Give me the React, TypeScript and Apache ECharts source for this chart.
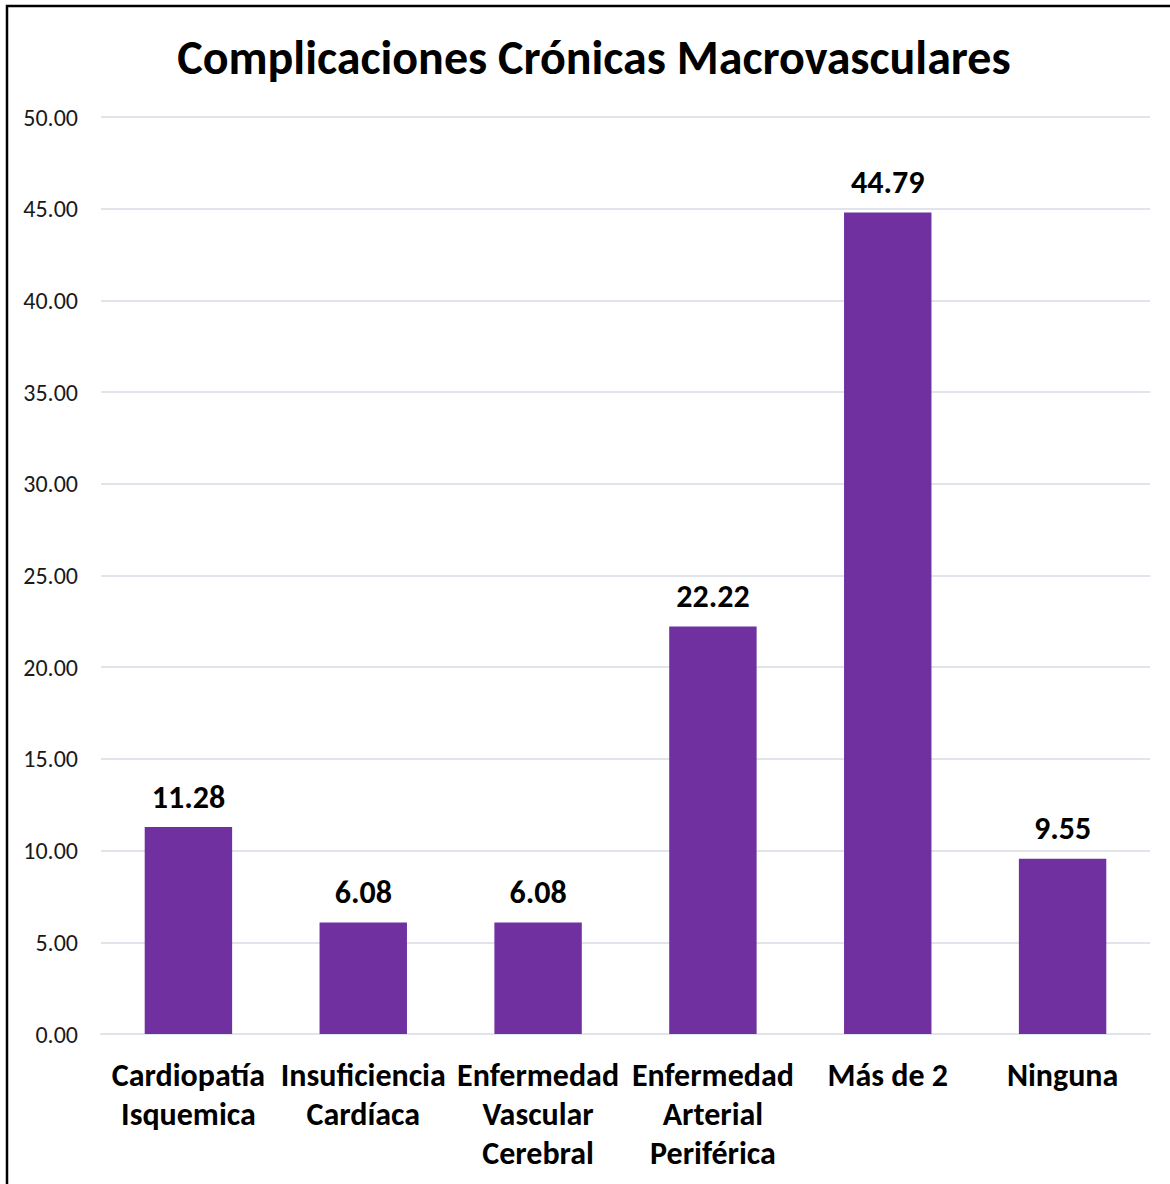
import React, { useEffect, useRef } from "react";
import * as echarts from "echarts";

const categories = [
  "Cardiopatía\nIsquemica",
  "Insuficiencia\nCardíaca",
  "Enfermedad\nVascular\nCerebral",
  "Enfermedad\nArterial\nPeriférica",
  "Más de 2",
  "Ninguna",
];
const values = [11.28, 6.08, 6.08, 22.22, 44.79, 9.55];
const title = "Complicaciones Crónicas Macrovasculares";

const FONT = "Carlito, Calibri, Lato, sans-serif";

export default function App() {
  const ref = useRef<HTMLDivElement>(null);
  useEffect(() => {
    document.body.style.margin = "0";
    const chart = echarts.init(ref.current!, undefined, { renderer: "svg" });
    chart.setOption({
      animation: false,
      backgroundColor: "#ffffff",
      title: {
        text: title,
        left: 589,
        textAlign: "center",
        top: 28,
        textStyle: { fontFamily: FONT, fontSize: 48, fontWeight: "bold", color: "#000000" },
      },
      grid: { left: 101, right: 20, top: 117, bottom: 150 },
      xAxis: {
        type: "category",
        data: categories,
        axisLine: { show: true, lineStyle: { color: "#e1e4ea", width: 2 } },
        axisTick: { show: false },
        axisLabel: {
          interval: 0,
          margin: 22,
          fontFamily: FONT,
          fontSize: 32,
          fontWeight: "bold",
          color: "#000000",
          lineHeight: 39,
        },
      },
      yAxis: {
        type: "value",
        min: 0,
        max: 50,
        interval: 5,
        axisLine: { show: false },
        axisTick: { show: false },
        splitLine: { lineStyle: { color: "#e1e4ea", width: 2 } },
        axisLabel: {
          formatter: (v: number) => v.toFixed(2),
          margin: 23,
          fontFamily: FONT,
          fontSize: 24,
          color: "#1a1a1a",
        },
      },
      series: [
        {
          type: "bar",
          data: values,
          barWidth: "50%",
          itemStyle: { color: "#7030a0" },
          label: {
            show: true,
            position: "top",
            distance: 14,
            formatter: (p: any) => p.value.toFixed(2),
            fontFamily: FONT,
            fontSize: 32,
            fontWeight: "bold",
            color: "#000000",
          },
        },
      ],
      graphic: [
        {
          type: "rect",
          shape: { x: 7, y: 6, width: 1200, height: 1220 },
          style: { fill: "none", stroke: "#000000", lineWidth: 2.5 },
          silent: true,
          z: 100,
        },
      ],
    });
    return () => chart.dispose();
  }, []);
  return <div ref={ref} style={{ width: 1170, height: 1184 }} />;
}
